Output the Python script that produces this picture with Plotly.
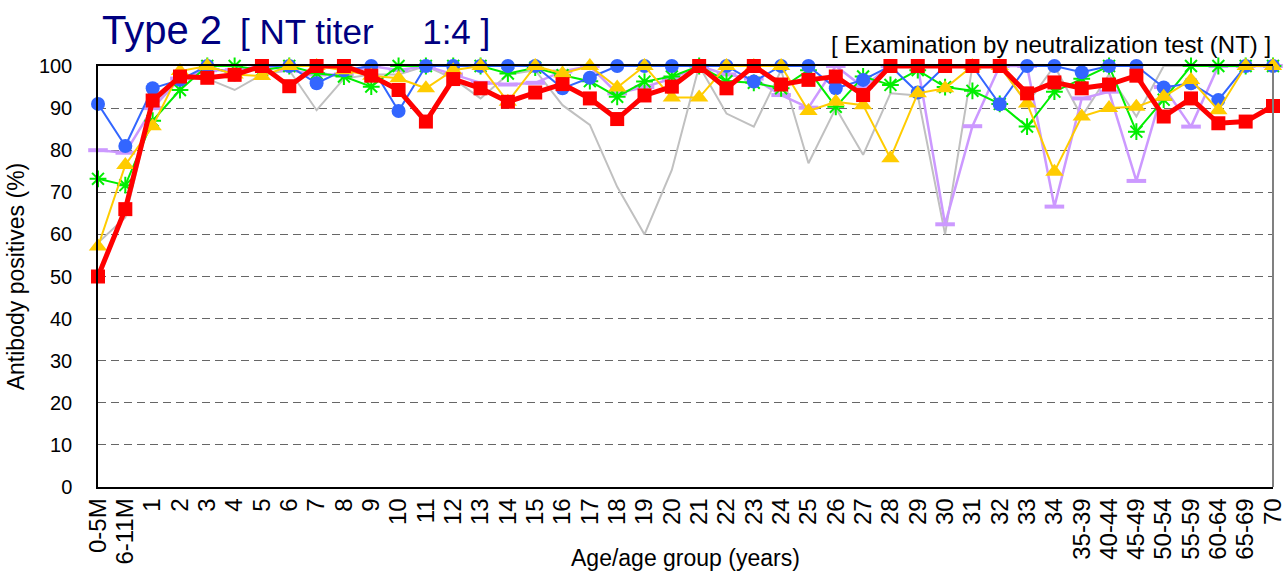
import plotly.graph_objects as go

categories = ["0-5M", "6-11M", "1", "2", "3", "4", "5", "6", "7", "8", "9", "10",
              "11", "12", "13", "14", "15", "16", "17", "18", "19", "20", "21", "22",
              "23", "24", "25", "26", "27", "28", "29", "30", "31", "32", "33", "34",
              "35-39", "40-44", "45-49", "50-54", "55-59", "60-64", "65-69", "70"]

series_gray = [58, 64, 91, 97, 97, 94.3, 98, 99, 89.5, 97, 98, 98, 100, 97, 92.3, 98, 99, 90.7, 86, 71.3,
               60, 75.3, 100, 88.7, 85.6, 99, 76.9, 90, 78.9, 93.5, 93, 60, 100, 100, 91, 100, 88, 98, 88, 100,
               100, 100, 100, 100]
series_lavender = [80, 79.4, 90, 97, 99, 99, 100, 99, 98, 98, 100, 99, 100, 98, 96, 95.6, 96, 98.7, 100, 93.5,
                   95, 97, 100, 98, 97, 93.1, 90.1, 100, 95, 100, 100, 62.4, 85.7, 100, 100, 66.6, 92.3, 93.9,
                   72.7, 95, 85.6, 100, 100, 100]
series_green = [73.2, 71.7, 87, 94.3, 100, 100, 99, 100, 98.3, 97.5, 95.1, 100, 100, 100, 100, 98.2, 99.6, 97.8,
                96.4, 92.7, 96.3, 97.5, 100, 96.4, 96, 94.7, 99, 90.3, 97.5, 95.5, 99, 95, 94.1, 91, 85.6, 93.9,
                97, 100, 84.4, 92, 100, 100, 100, 100]
series_blue = [91, 81, 94.7, 96.7, 100, 98, 100, 100, 95.9, 99, 100, 89.3, 100, 100, 100, 100, 100, 94.7, 97.2,
               100, 100, 100, 100, 100, 96.3, 100, 100, 94.7, 96.7, 100, 93.7, 100, 100, 90.9, 100, 100, 98.5,
               100, 100, 94.9, 95.9, 91.9, 100, 100]
series_gold = [57.1, 76.5, 85.7, 98.8, 100, 98, 97.6, 100, 100, 99, 97.7, 97.1, 94.7, 99, 100, 91.5, 100, 98.2,
               100, 94.9, 100, 92.5, 92.5, 100, 100, 100, 89.3, 91.5, 90.7, 78.1, 93.5, 94.7, 100, 100, 91.1,
               74.9, 88, 90, 90.3, 92.7, 96.7, 89.5, 100, 100]
series_red = [50, 66, 91.8, 97.5, 97.2, 97.9, 100, 95.2, 100, 100, 97.7, 94.3, 86.8, 96.9, 94.7, 91.5, 93.7,
              95.7, 92.3, 87.4, 93, 95.1, 100, 94.7, 100, 95.6, 96.7, 97.5, 93.1, 100, 100, 100, 100, 100, 93.5,
              96.1, 94.7, 95.6, 97.7, 88, 92.3, 86.4, 86.8, 90.5]

y_ticks = [0, 10, 20, 30, 40, 50, 60, 70, 80, 90, 100]

FONT = "Liberation Sans, Arial, sans-serif"

fig = go.Figure()

fig.add_trace(go.Scatter(x=categories, y=series_gray, mode="lines",
                         line=dict(color="#C0C0C0", width=2), cliponaxis=False, showlegend=False))
fig.add_trace(go.Scatter(x=categories, y=series_lavender, mode="lines+markers",
                         line=dict(color="#CC99FF", width=2.5),
                         marker=dict(symbol="line-ew", size=14, line=dict(color="#CC99FF", width=4)),
                         cliponaxis=False, showlegend=False))
fig.add_trace(go.Scatter(x=categories, y=series_green, mode="lines+markers",
                         line=dict(color="#00EE00", width=2),
                         marker=dict(symbol="asterisk", size=14, line=dict(color="#00EE00", width=2)),
                         cliponaxis=False, showlegend=False))
fig.add_trace(go.Scatter(x=categories, y=series_blue, mode="lines+markers",
                         line=dict(color="#3366FF", width=2),
                         marker=dict(symbol="circle", size=14, color="#3366FF"),
                         cliponaxis=False, showlegend=False))
fig.add_trace(go.Scatter(x=categories, y=series_gold, mode="lines+markers",
                         line=dict(color="#FFCC00", width=2),
                         marker=dict(symbol="triangle-up", size=16, color="#FFCC00"),
                         cliponaxis=False, showlegend=False))
fig.add_trace(go.Scatter(x=categories, y=series_red, mode="lines+markers",
                         line=dict(color="#FF0000", width=5),
                         marker=dict(symbol="square", size=14, color="#FF0000"),
                         cliponaxis=False, showlegend=False))

fig.update_layout(
    width=1287, height=576,
    margin=dict(l=98, r=14, t=66, b=89),
    paper_bgcolor="white", plot_bgcolor="white",
    font=dict(family=FONT, color="black", size=22),
    xaxis=dict(
        type="category", categoryorder="array", categoryarray=categories,
        range=[0, len(categories) - 1],
        tickmode="array", tickvals=categories, ticktext=categories,
        tickangle=-90, tickfont=dict(size=24, family=FONT),
        showline=True, linecolor="black", linewidth=1.5, mirror=True,
        showgrid=False, zeroline=False, ticks="",
        automargin=False,
    ),
    yaxis=dict(
        range=[0, 100], tickvals=y_ticks,
        tickfont=dict(size=20, family=FONT),
        showline=True, linecolor="black", linewidth=1.5,
        showgrid=True, gridcolor="#666666", gridwidth=1, griddash="8px,5px",
        zeroline=False, ticks="", ticklabelstandoff=20,
        title=dict(text="Antibody positives (%)", font=dict(size=23, family=FONT), standoff=8),
        automargin=False,
    ),
    shapes=[dict(type="line", xref="paper", yref="paper", x0=1, x1=1, y0=0, y1=1,
                 line=dict(color="#808080", width=2))],
    annotations=[
        dict(text="Type\u00a02", xref="paper", yref="paper", x=0.0017, y=1.0855,
             xanchor="left", yanchor="middle", showarrow=False,
             font=dict(size=40, color="#000080", family=FONT)),
        dict(text="[\u00a0NT titer\u00a0\u00a0\u00a0\u00a0\u00a01:4\u00a0]", xref="paper", yref="paper",
             x=0.119, y=1.082, xanchor="left", yanchor="middle", showarrow=False,
             font=dict(size=35, color="#000080", family=FONT)),
        dict(text="[ Examination by neutralization test (NT) ]", xref="paper", yref="paper",
             x=1.0, y=1.05, xanchor="right", yanchor="middle", showarrow=False,
             font=dict(size=24, color="black", family=FONT)),
        dict(text="Age/age group (years)", xref="paper", yref="paper",
             x=0.5, y=-0.1686, xanchor="center", yanchor="middle", showarrow=False,
             font=dict(size=23, color="black", family=FONT)),
    ],
)

fig.write_html("out.html", config={"displayModeBar": False},
               post_script="document.body.style.margin='0px';")
